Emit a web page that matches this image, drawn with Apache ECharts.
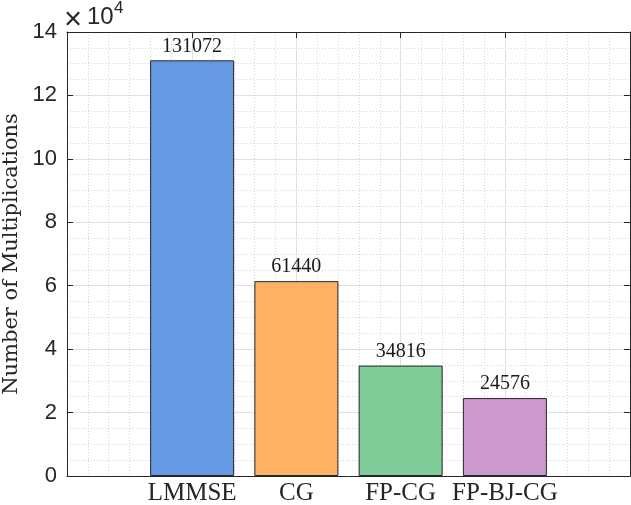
<!DOCTYPE html>
<html>
<head>
<meta charset="utf-8">
<script src="https://cdn.jsdelivr.net/npm/echarts@6/dist/echarts.min.js"></script>
<style>html,body{margin:0;padding:0;background:#fff}#c{width:631px;height:505px}</style>
</head>
<body>
<div id="c"></div>
<script>
const categories = ['LMMSE', 'CG', 'FP-CG', 'FP-BJ-CG'];
const positions = [1, 2, 3, 4];
const values = [131072, 61440, 34816, 24576];
const colors = ['#6699E3', '#FFB266', '#80CC99', '#CC99CC'];
const yTicks = [0, 20000, 40000, 60000, 80000, 100000, 120000, 140000];

const chart = echarts.init(document.getElementById('c'), null, {renderer: 'canvas'});
const serif = '"Liberation Serif", "Times New Roman", serif';
const wideSerif = '"DejaVu Serif", serif';
const sans = '"Liberation Sans", Arial, sans-serif';
const axisCol = '#262626';
const xMin = -0.2, xMax = 5.2;

const option = {
  animation: false,
  backgroundColor: '#fff',
  graphic: [
    {type: 'text', left: 64, top: 5, style: {text: '×', fontFamily: sans, fontSize: 31, fill: '#262626'}},
    {type: 'text', left: 87, top: 5, style: {text: '10', fontFamily: sans, fontSize: 24, fill: '#262626'}},
    {type: 'text', left: 114, top: 0, style: {text: '4', fontFamily: sans, fontSize: 17, fill: '#262626'}}
  ],
  grid: {left: 67, top: 32, right: 1, bottom: 29, containLabel: false, outerBoundsMode: 'none'},
  xAxis: [
    {
      type: 'value', min: xMin, max: xMax, interval: 0.2, position: 'bottom',
      axisLine: {show: true, onZero: false, lineStyle: {color: axisCol, width: 1}},
      axisTick: {show: false}, axisLabel: {show: false},
      splitLine: {show: true, lineStyle: {color: '#d4d4d4', type: [1, 2], width: 1}}
    },
    {
      type: 'value', min: xMin, max: xMax, position: 'bottom',
      axisLine: {show: false},
      axisTick: {show: true, inside: true, length: 6, customValues: positions, lineStyle: {color: axisCol}},
      axisLabel: {show: true, customValues: positions, margin: 5,
        formatter: v => { const i = positions.indexOf(Math.round(v)); return i >= 0 ? categories[i] : ''; },
        fontFamily: serif, fontSize: 25, color: '#262626'},
      splitLine: {show: true, customValues: positions, lineStyle: {color: '#e0e0e0', width: 1}}
    },
    {
      type: 'value', min: xMin, max: xMax, position: 'top',
      axisLine: {show: true, onZero: false, lineStyle: {color: axisCol}},
      axisTick: {show: true, inside: true, length: 6, customValues: positions, lineStyle: {color: axisCol}},
      axisLabel: {show: false}, splitLine: {show: false}
    }
  ],
  yAxis: [
    {
      type: 'value', min: 0, max: 140000, interval: 20000, position: 'left',
      name: 'Number of Multiplications', nameLocation: 'middle', nameGap: 42, nameRotate: 90,
      nameTextStyle: {fontFamily: wideSerif, fontSize: 21, color: '#262626'},
      axisLine: {show: true, onZero: false, lineStyle: {color: axisCol}},
      axisTick: {show: true, inside: true, length: 6, lineStyle: {color: axisCol}},
      axisLabel: {show: true, margin: 10, formatter: v => String(v / 10000), fontFamily: sans, fontSize: 22, color: '#262626'},
      splitLine: {show: true, lineStyle: {color: '#e0e0e0', width: 1}},
      minorTick: {show: false, splitNumber: 4},
      minorSplitLine: {show: true, lineStyle: {color: '#d4d4d4', type: [1, 2], width: 1}}
    },
    {
      type: 'value', min: 0, max: 140000, interval: 20000, position: 'right',
      axisLine: {show: true, onZero: false, lineStyle: {color: axisCol}},
      axisTick: {show: true, inside: true, length: 6, lineStyle: {color: axisCol}},
      axisLabel: {show: false}, splitLine: {show: false}
    }
  ],
  series: [{
    type: 'bar',
    xAxisIndex: 0, yAxisIndex: 0,
    barWidth: 84,
    data: positions.map((p, i) => ({
      value: [p, values[i]],
      itemStyle: {color: colors[i], borderColor: '#262626', borderWidth: 1}
    })),
    label: {
      show: true, position: 'top', distance: 4,
      formatter: p => String(p.value[1]),
      fontFamily: serif, fontSize: 20, color: '#1a1a1a'
    },
    z: 3
  }]
};
chart.setOption(option);
</script>
</body>
</html>
